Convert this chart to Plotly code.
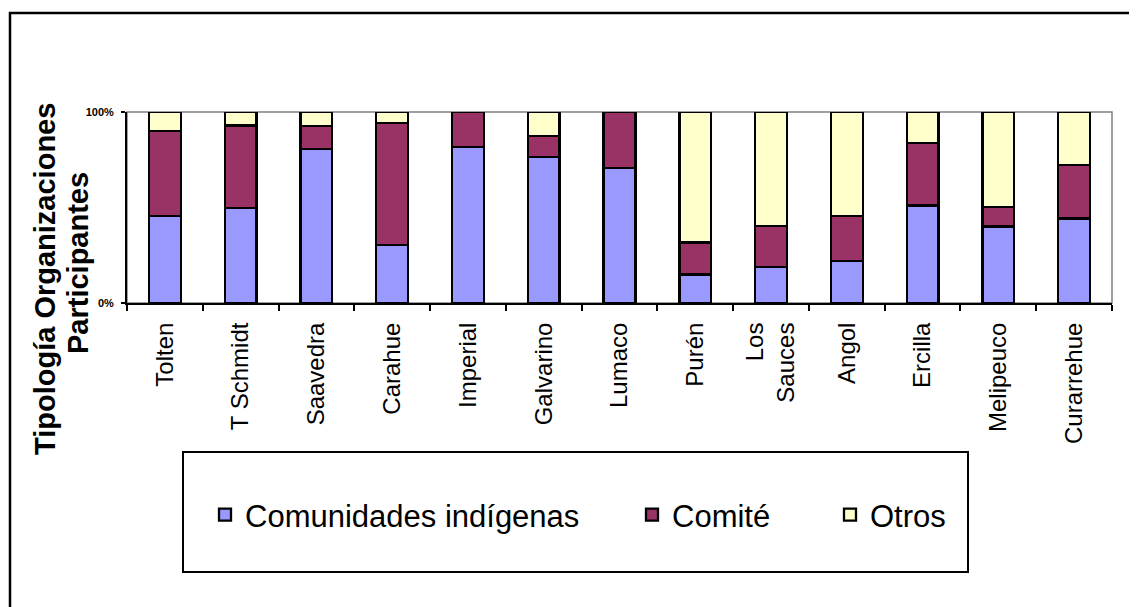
import plotly.graph_objects as go

categorias = ["Tolten", "T Schmidt", "Saavedra", "Carahue", "Imperial", "Galvarino",
              "Lumaco", "Purén", "Los<br>Sauces", "Angol", "Ercilla", "Melipeuco", "Curarrehue"]
comunidades = [45.5, 49.6, 80.5, 30.4, 81.8, 76.3, 70.7, 15.0, 19.0, 22.0, 51.1, 40.0, 44.3]
comite = [44.7, 43.4, 12.2, 64.0, 18.2, 11.3, 29.3, 16.6, 21.3, 23.7, 32.5, 10.1, 27.9]
otros = [9.8, 7.0, 7.3, 5.6, 0.0, 12.4, 0.0, 68.4, 59.7, 54.3, 16.4, 49.9, 27.8]
y_ticks = [0, 100]
y_ticktext = ["0%", "100%"]

OFF = 8  # page body margin
W, H = 1137 - OFF, 607 - OFF
L, R, T, B = 127 - OFF, 1112 - OFF, 112 - OFF, 303 - OFF  # plot area in figure px


def px(x):
    return (x - OFF - L) / (R - L)


def py(y):
    return (B - (y - OFF)) / (B - T)


FONT = "Arial, Liberation Sans, sans-serif"
series = [
    ("Comunidades indígenas", comunidades, "#9999FF", "legend", 205),
    ("Comité", comite, "#993366", "legend2", 632),
    ("Otros", otros, "#FFFFCC", "legend3", 830),
]

fig = go.Figure()
for name, vals, col, leg, _ in series:
    fig.add_trace(go.Bar(
        x=categorias, y=vals, name=name, legend=leg,
        marker=dict(color=col, line=dict(color="black", width=2.3)),
    ))

legend_common = dict(orientation="h", bgcolor="rgba(0,0,0,0)", borderwidth=0,
                     font=dict(family=FONT, size=31, color="black"),
                     xanchor="left", yanchor="middle", itemwidth=30)
layout_legends = {}
for name, vals, col, leg, xl in series:
    layout_legends[leg] = dict(legend_common, x=px(xl), y=py(515))

fig.update_layout(
    width=W, height=H,
    margin=dict(l=L, r=W - R, t=T, b=H - B),
    paper_bgcolor="white", plot_bgcolor="white",
    barmode="stack", bargap=0.58,
    showlegend=True,
    font=dict(family=FONT, color="black"),
    xaxis=dict(
        type="category", tickangle=-90, tickson="boundaries",
        ticks="outside", ticklen=6, tickwidth=2, tickcolor="black",
        showline=True, linecolor="black", linewidth=2,
        tickfont=dict(family=FONT, size=24, color="black"),
        ticklabelstandoff=8, showgrid=False, zeroline=False,
    ),
    yaxis=dict(
        range=[0, 100], tickvals=y_ticks, ticktext=y_ticktext,
        ticks="outside", ticklen=4, tickwidth=2, tickcolor="black",
        showline=True, linecolor="black", linewidth=2,
        tickfont=dict(family=FONT, size=11, color="black", weight="bold"),
        ticklabelstandoff=5, showgrid=False, zeroline=False,
    ),
    shapes=[
        dict(type="rect", xref="paper", yref="paper", x0=0, x1=1, y0=0, y1=1,
             line=dict(color="#808080", width=1.5), layer="below"),
        dict(type="rect", xref="paper", yref="paper",
             x0=px(183), x1=px(968), y0=py(572), y1=py(452),
             line=dict(color="black", width=2), layer="below"),
        dict(type="rect", xref="paper", yref="paper",
             x0=px(10), x1=px(1170), y0=py(650), y1=py(13),
             line=dict(color="black", width=2.5), layer="below"),
    ],
    annotations=[
        dict(text="<b>Tipología Organizaciones</b>", xref="paper", yref="paper",
             x=px(45), y=py(279), textangle=-90, showarrow=False,
             xanchor="center", yanchor="middle",
             font=dict(family=FONT, size=29, color="black")),
        dict(text="<b>Participantes</b>", xref="paper", yref="paper",
             x=px(78), y=py(263), textangle=-90, showarrow=False,
             xanchor="center", yanchor="middle",
             font=dict(family=FONT, size=29, color="black")),
    ],
    **layout_legends,
)

fig.write_html("out.html")
